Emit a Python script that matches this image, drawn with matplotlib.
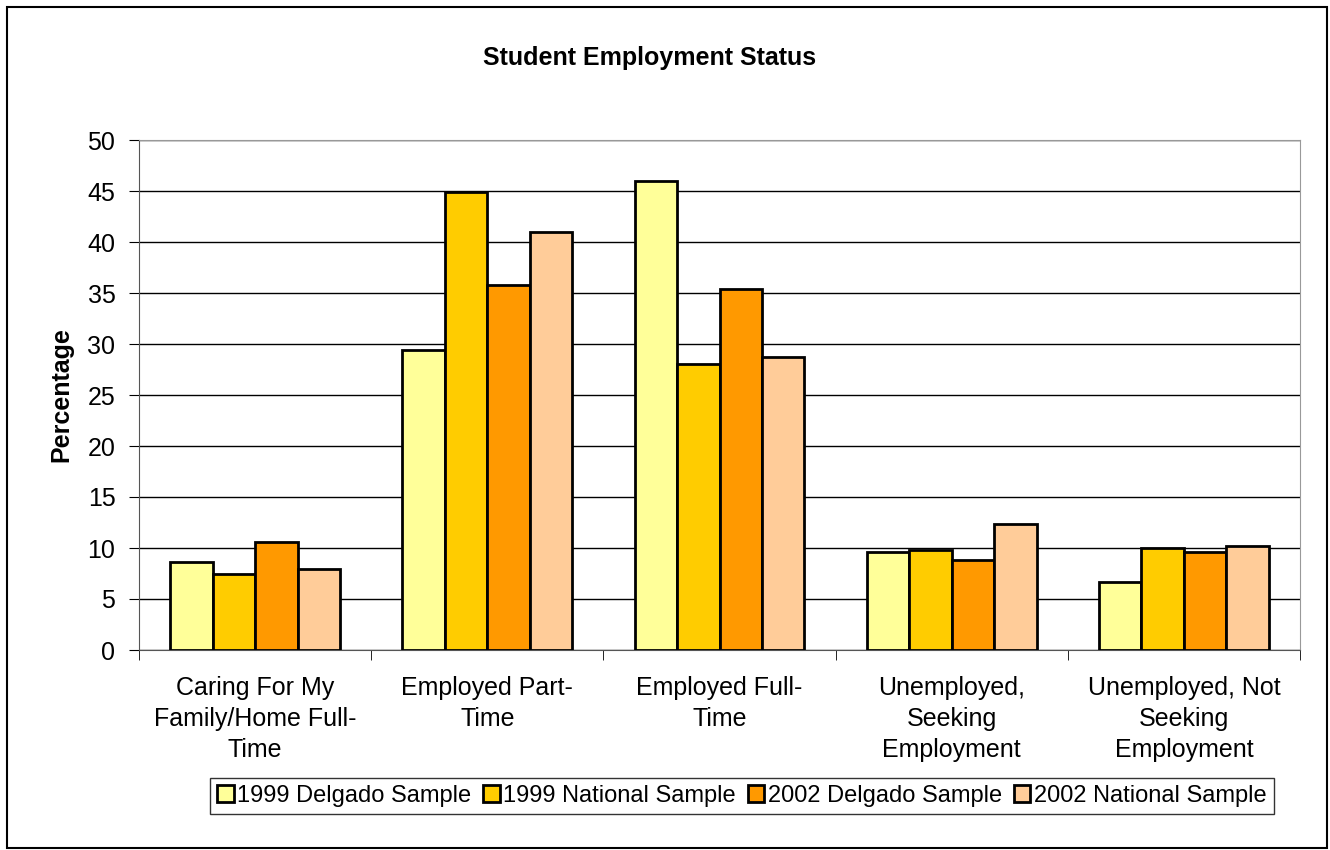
import numpy as np
import matplotlib.pyplot as plt
from matplotlib.patches import Rectangle

plt.rcParams['font.family'] = ['Liberation Sans', 'DejaVu Sans']

categories = ['Caring For My\nFamily/Home Full-\nTime', 'Employed Part-\nTime',
              'Employed Full-\nTime', 'Unemployed,\nSeeking\nEmployment',
              'Unemployed, Not\nSeeking\nEmployment']
series = ['1999 Delgado Sample', '1999 National Sample',
          '2002 Delgado Sample', '2002 National Sample']
delgado_1999 = [8.6, 29.4, 46.0, 9.6, 6.7]
national_1999 = [7.5, 44.9, 28.0, 9.8, 10.0]
delgado_2002 = [10.6, 35.8, 35.4, 8.8, 9.6]
national_2002 = [7.9, 41.0, 28.7, 12.4, 10.2]
colors = ['#FFFF99', '#FFCC00', '#FF9900', '#FFCC99']

fig = plt.figure(figsize=(13.3, 8.5), dpi=100)
ax = fig.add_axes([139/1330, 200/850, 1161/1330, 510/850])

x = np.arange(len(categories))
w = 0.183
for i, (vals, lab) in enumerate(zip([delgado_1999, national_1999, delgado_2002, national_2002], series)):
    ax.bar(x + (i - 1.5) * w, vals, w, color=colors[i], edgecolor='black',
           linewidth=2, label=lab, zorder=3)

ax.set_xlim(-0.5, len(categories) - 0.5)
ax.set_ylim(0, 50)
ax.set_yticks(range(0, 51, 5))
ax.yaxis.grid(True, color='black', linewidth=1, zorder=0)
ax.set_xticks(x)
ax.set_xticklabels(categories, fontsize=18, linespacing=1.35)
ax.tick_params(axis='x', length=0, pad=19)
ax.set_xticks(np.arange(-0.5, len(categories)), minor=True)
ax.tick_params(axis='x', which='minor', length=7, direction='out', color='black')
ax.tick_params(axis='y', labelsize=18, length=7, direction='out', color='black', pad=10)
for s in ['top', 'right']:
    ax.spines[s].set_color('#999999')
for s in ['left', 'bottom']:
    ax.spines[s].set_color('#555555')
ax.set_ylabel('Percentage', fontsize=18, fontweight='bold')
ax.yaxis.set_label_coords(-(139 - 73) / 1161, 0.5)

fig.text(650/1330, 1 - 58/850, 'Student Employment Status', ha='center', va='center',
         fontsize=18, fontweight='bold')

leg = fig.legend(loc='center', bbox_to_anchor=(742/1330, 1 - 796/850), ncol=4,
                 frameon=True, fancybox=False, fontsize=17, handlelength=0.7,
                 handleheight=0.7, handletextpad=0.15, columnspacing=0.5,
                 borderpad=0.3, borderaxespad=0)
leg.get_frame().set_edgecolor('black')
leg.get_frame().set_linewidth(1)

fig.patches.append(Rectangle((7/1330, 2/850), 1320/1330, 841/850, transform=fig.transFigure,
                             fill=False, edgecolor='black', linewidth=1.5))

fig.savefig('out.png', dpi=100)
